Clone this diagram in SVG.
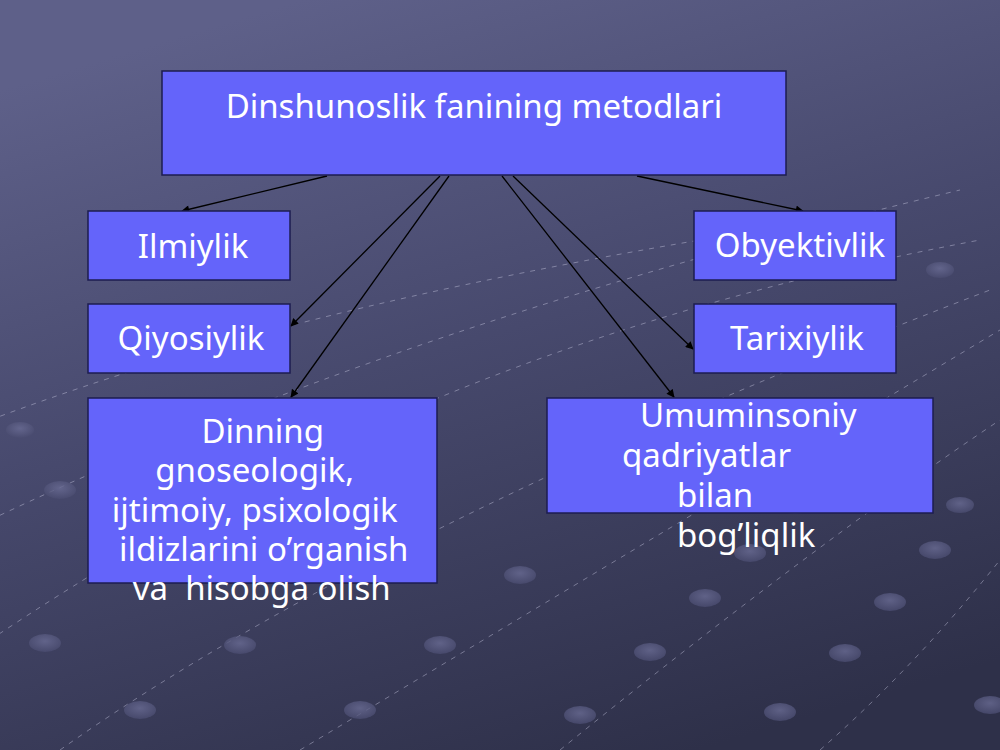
<svg xmlns="http://www.w3.org/2000/svg" width="1000" height="750" viewBox="0 0 1000 750">
<defs>
<linearGradient id="bg" x1="0.3" y1="0" x2="0.7" y2="1">
<stop offset="0" stop-color="#5e6089"/>
<stop offset="0.45" stop-color="#47496d"/>
<stop offset="1" stop-color="#2e3049"/>
</linearGradient>
<radialGradient id="dot" cx="0.5" cy="0.4" r="0.6">
<stop offset="0" stop-color="#6a6c94"/>
<stop offset="1" stop-color="#4a4c70"/>
</radialGradient>
<marker id="arr" viewBox="0 0 10 10" refX="9" refY="5" markerWidth="10" markerHeight="8" markerUnits="userSpaceOnUse" orient="auto">
<path d="M0,0 L10,5 L0,10 z" fill="#000"/>
</marker>
<style>
.box{fill:#6464fa;stroke:#1c1c50;stroke-width:1.5}
.t{font-family:"Noto Sans","Open Sans","DejaVu Sans",sans-serif;font-size:33px;fill:#ffffff;white-space:pre}
.c{stroke:#000;stroke-width:1.3;fill:none;marker-end:url(#arr)}
.d{stroke:#c8c8e0;stroke-width:1;stroke-dasharray:5 6;fill:none;opacity:0.45}
.e{fill:url(#dot);opacity:0.8}
</style>
</defs>
<rect width="1000" height="750" fill="url(#bg)"/>
<g id="background">
<path class="d" d="M-10,640 C200,500 500,330 980,240"/>
<path class="d" d="M-10,520 C200,420 500,300 960,190"/>
<path class="d" d="M60,750 C300,580 650,420 990,290"/>
<path class="d" d="M300,750 C550,600 800,450 1000,330"/>
<path class="d" d="M560,750 C720,620 880,500 1000,420"/>
<path class="d" d="M820,750 C900,680 960,610 1000,560"/>
<path class="d" d="M-10,420 C150,360 350,300 700,240"/>
<ellipse class="e" cx="45" cy="643" rx="16" ry="9"/>
<ellipse class="e" cx="240" cy="645" rx="16" ry="9"/>
<ellipse class="e" cx="140" cy="710" rx="16" ry="9"/>
<ellipse class="e" cx="360" cy="710" rx="16" ry="9"/>
<ellipse class="e" cx="440" cy="645" rx="16" ry="9"/>
<ellipse class="e" cx="650" cy="652" rx="16" ry="9"/>
<ellipse class="e" cx="705" cy="598" rx="16" ry="9"/>
<ellipse class="e" cx="750" cy="553" rx="16" ry="9"/>
<ellipse class="e" cx="795" cy="505" rx="16" ry="9"/>
<ellipse class="e" cx="845" cy="653" rx="16" ry="9"/>
<ellipse class="e" cx="890" cy="602" rx="16" ry="9"/>
<ellipse class="e" cx="935" cy="550" rx="16" ry="9"/>
<ellipse class="e" cx="990" cy="705" rx="16" ry="9"/>
<ellipse class="e" cx="580" cy="715" rx="16" ry="9"/>
<ellipse class="e" cx="780" cy="712" rx="16" ry="9"/>
<ellipse class="e" cx="520" cy="575" rx="16" ry="9"/>
<ellipse class="e" cx="60" cy="490" rx="16" ry="9"/>
<ellipse class="e" cx="20" cy="430" rx="14" ry="8"/>
<ellipse class="e" cx="960" cy="505" rx="14" ry="8"/>
<ellipse class="e" cx="940" cy="270" rx="14" ry="8"/>
</g>
<g id="connectors">
<line class="c" x1="327" y1="176" x2="182" y2="211"/>
<line class="c" x1="440" y1="176" x2="291" y2="326"/>
<line class="c" x1="449" y1="176" x2="291" y2="397"/>
<line class="c" x1="637" y1="176" x2="803" y2="211"/>
<line class="c" x1="513" y1="176" x2="693" y2="349"/>
<line class="c" x1="502" y1="176" x2="674" y2="397"/>
</g>
<g id="n-title">
<rect class="box" x="162" y="71" width="624" height="104"/>
<text class="t" x="474" y="118" text-anchor="middle">Dinshunoslik fanining metodlari</text>
</g>
<g id="n-ilmiylik">
<rect class="box" x="88" y="211" width="202" height="69"/>
<text class="t" x="193" y="258" text-anchor="middle">Ilmiylik</text>
</g>
<g id="n-qiyosiylik">
<rect class="box" x="88" y="304" width="202" height="69"/>
<text class="t" x="191" y="350" text-anchor="middle">Qiyosiylik</text>
</g>
<g id="n-obyektivlik">
<rect class="box" x="694" y="211" width="202" height="69"/>
<text class="t" x="800" y="257" text-anchor="middle">Obyektivlik</text>
</g>
<g id="n-tarixiylik">
<rect class="box" x="694" y="304" width="202" height="69"/>
<text class="t" x="797" y="350" text-anchor="middle">Tarixiylik</text>
</g>
<g id="n-dinning">
<rect class="box" x="88" y="398" width="349" height="185"/>
<text class="t" text-anchor="middle">
<tspan x="267" y="443">Dinning</tspan>
<tspan x="259" y="482">gnoseologik,</tspan>
<tspan x="259" y="522">ijtimoiy, psixologik</tspan>
<tspan x="268" y="561">ildizlarini o’rganish</tspan>
<tspan x="266" y="600">va  hisobga olish</tspan>
</text>
</g>
<g id="n-umuminsoniy">
<rect class="box" x="547" y="398" width="386" height="115"/>
<text class="t">
<tspan x="640" y="427">Umuminsoniy</tspan>
<tspan x="622" y="467">qadriyatlar</tspan>
<tspan x="677" y="507">bilan</tspan>
<tspan x="677" y="547">bog’liqlik</tspan>
</text>
</g>
</svg>
